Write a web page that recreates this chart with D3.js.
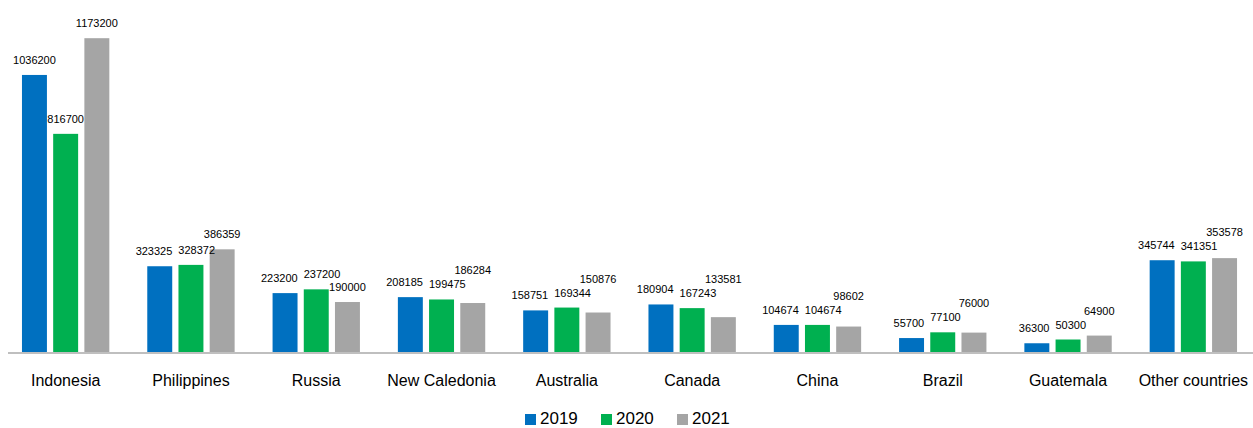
<!DOCTYPE html>
<html>
<head>
<meta charset="utf-8">
<script src="https://cdn.jsdelivr.net/npm/d3@7"></script>
<style>
  html, body { margin: 0; padding: 0; background: #ffffff; }
  svg { display: block; }
</style>
</head>
<body>
<svg id="chart" width="1253" height="428"></svg>
<script>
// ---- data ----
const categories = ["Indonesia", "Philippines", "Russia", "New Caledonia", "Australia", "Canada", "China", "Brazil", "Guatemala", "Other countries"];
const seriesNames = ["2019", "2020", "2021"];
const values2019 = [1036200, 323325, 223200, 208185, 158751, 180904, 104674, 55700, 36300, 345744];
const values2020 = [816700, 328372, 237200, 199475, 169344, 167243, 104674, 77100, 50300, 341351];
const values2021 = [1173200, 386359, 190000, 186284, 150876, 133581, 98602, 76000, 64900, 353578];
const colors = ["#0070C0", "#00B050", "#A5A5A5"];

const seriesValues = [values2019, values2020, values2021];
const rows = categories.map((c, i) => ({
  category: c,
  values: seriesNames.map((s, j) => ({ series: s, value: seriesValues[j][i], color: colors[j] }))
}));

const svg = d3.select("#chart");
const baseline = 353;
const FONT = "Liberation Sans, Arial, sans-serif";

const x0 = d3.scaleBand().domain(categories).range([3, 1256]).padding(0);
const x1 = d3.scaleBand().domain(seriesNames).range([0, x0.bandwidth()]).paddingInner(0.2).paddingOuter(0.608);
const y = d3.scaleLinear().domain([0, 1200000]).range([baseline, 31]);

// bars
const groups = svg.append("g").selectAll("g").data(rows).join("g")
  .attr("transform", d => `translate(${x0(d.category)},0)`);

groups.selectAll("rect").data(d => d.values).join("rect")
  .attr("x", d => x1(d.series))
  .attr("y", d => y(d.value))
  .attr("width", x1.bandwidth())
  .attr("height", d => baseline - y(d.value))
  .attr("fill", d => d.color);

// value labels with simple collision avoidance (like spreadsheet data labels)
groups.each(function (row) {
  const g = d3.select(this);
  const placed = [];
  row.values.forEach(v => {
    const t = g.append("text")
      .attr("text-anchor", "middle")
      .attr("font-family", FONT)
      .attr("font-size", "11px")
      .attr("fill", "#000")
      .text(v.value);
    const l = { t, cx: x1(v.series) + x1.bandwidth() / 2, y: y(v.value) - 11, w: t.node().getComputedTextLength(), shifted: false };
    let guard = 0, changed = true;
    while (changed && guard++ < 12) {
      changed = false;
      for (const p of placed) {
        const hov = (p.w / 2 + l.w / 2 + 6) - Math.abs(l.cx - p.cx);
        const vov = 12 - Math.abs(l.y - p.y);
        if (hov > 0 && vov > 0) {
          if (hov <= 16 && Math.abs(l.y - p.y) < 6 && !p.shifted && !l.shifted) {
            p.cx -= hov / 2; l.cx += hov / 2; p.shifted = true; l.shifted = true;
          } else {
            l.y = p.y - 14;
          }
          changed = true;
        }
      }
    }
    placed.push(l);
  });
  placed.forEach(l => l.t.attr("x", l.cx).attr("y", l.y));
});

// x axis
const xAxis = d3.axisBottom(x0).tickSize(0).tickPadding(0);
const ax = svg.append("g").attr("transform", `translate(0,${baseline})`).call(xAxis);
ax.select(".domain").attr("d", "M8,0H1253").attr("stroke", "#bfbfbf").attr("stroke-width", 2);
ax.selectAll(".tick text")
  .attr("y", 33)
  .attr("dy", 0)
  .attr("font-family", FONT)
  .attr("font-size", "16px")
  .attr("fill", "#000");

// legend
const legendX = d3.scaleBand().domain(seriesNames).range([525, 753]);
const legend = svg.append("g").selectAll("g").data(seriesNames).join("g")
  .attr("transform", d => `translate(${legendX(d)},413)`);
legend.append("rect").attr("x", 0).attr("y", 1).attr("width", 11).attr("height", 11)
  .attr("fill", (d, i) => colors[i]);
legend.append("text").attr("x", 15).attr("y", 11)
  .attr("font-family", FONT)
  .attr("font-size", "17px")
  .attr("fill", "#000")
  .text(d => d);
</script>
</body>
</html>
